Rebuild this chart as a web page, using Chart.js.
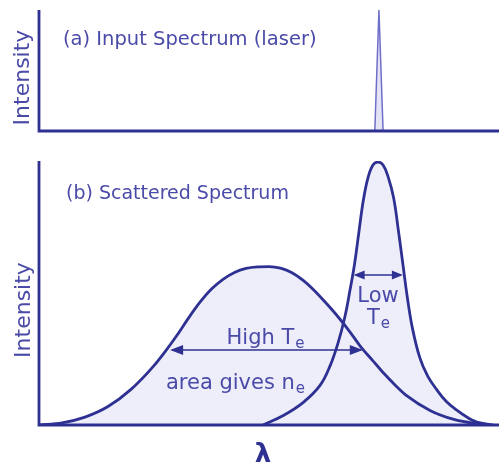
<!DOCTYPE html>
<html lang="en">
<head>
<meta charset="UTF-8">
<title>Thomson scattering spectrum</title>
<script src="https://cdn.jsdelivr.net/npm/chart.js"></script>
<style>
  html, body { margin: 0; padding: 0; background: #fff; }
  #wrap { position: relative; width: 499px; height: 470px; }
  #wrap canvas { position: absolute; left: 0; top: 0; }
</style>
</head>
<body>
<div id="wrap">
  <canvas id="laser" width="499" height="470"></canvas>
  <canvas id="scattered" width="499" height="470"></canvas>
</div>
<script>
// (a) input laser line
const laserX = [73.0, 73.9, 74.8];
const laserY = [0, 100, 0];

// (b) broad scattered spectrum (high Te)
const hotX = [0, 5, 10, 15, 20, 25, 27.5, 30, 32.5, 35, 37.5, 40, 42.5, 45, 47.5, 50,
              52.5, 55, 57.5, 60, 62.5, 65, 67.5, 70, 72.5, 75, 77.5, 80, 85, 90, 95, 98];
const hotY = [0, 0.8, 3, 7, 13.5, 22.5, 28, 34, 40.5, 46.5, 51.5, 55.2, 57.8, 59.3, 59.9, 60,
              59.4, 57.7, 54.7, 50.7, 46, 41, 35.5, 29.5, 24.5, 19.5, 15, 11, 5.5, 2.2, 0.5, 0];

// (b) narrow scattered spectrum (low Te)
const coldX = [48.7, 53, 57.4, 61.1, 63.3, 65, 66.5, 67.6, 68.6, 69.5, 70.5, 71.5, 72.6, 73.7,
               74.8, 75.9, 77.1, 78.1, 79.1, 80.1, 81.2, 82.8, 84.5, 86.5, 88.5, 90.9, 93, 95.2, 98.7];
const coldY = [0, 3.5, 8.5, 15, 22.5, 31, 41, 51, 61, 72.5, 85, 93.5, 98.5, 99.6,
               98.5, 94, 86, 74, 61, 48, 36.5, 25.4, 18.5, 13.3, 9, 5.5, 3, 1.1, 0];

const INK = '#2e3192';
const TEXT = '#4a4aa8';
const FILL = '#eeeefb';
const FONT = '"DejaVu Sans", Verdana, sans-serif';

function pts(xs, ys) {
    return xs.map((x, i) => ({ x: x, y: ys[i] }));
}

// L-shaped axes drawn along the chart area
const axesPlugin = {
    id: 'axesLines',
    afterDatasetsDraw(chart) {
        const { ctx, chartArea: a } = chart;
        ctx.save();
        ctx.strokeStyle = INK;
        ctx.lineWidth = 2.8;
        ctx.beginPath();
        ctx.moveTo(a.left, a.top);
        ctx.lineTo(a.left, a.bottom);
        ctx.lineTo(a.right, a.bottom);
        ctx.stroke();
        ctx.restore();
    }
};

function verticalLabel(ctx, text, x, y) {
    ctx.save();
    ctx.translate(x, y);
    ctx.rotate(-Math.PI / 2);
    ctx.font = '22px ' + FONT;
    ctx.fillStyle = TEXT;
    ctx.textAlign = 'center';
    ctx.textBaseline = 'middle';
    ctx.fillText(text, 0, 0);
    ctx.restore();
}

// text with a small subscript, centred on cx
function subText(ctx, main, sub, cx, baseY, size) {
    ctx.font = size + 'px ' + FONT;
    const w1 = ctx.measureText(main).width;
    ctx.font = Math.round(size * 0.72) + 'px ' + FONT;
    const w2 = ctx.measureText(sub).width;
    const x0 = cx - (w1 + w2) / 2;
    ctx.textAlign = 'left';
    ctx.textBaseline = 'alphabetic';
    ctx.font = size + 'px ' + FONT;
    ctx.fillText(main, x0, baseY);
    ctx.font = Math.round(size * 0.72) + 'px ' + FONT;
    ctx.fillText(sub, x0 + w1 + 1, baseY + 4);
}

function arrowHead(ctx, x, y, dir, len, half) {
    ctx.beginPath();
    ctx.moveTo(x, y);
    ctx.lineTo(x - dir * len, y - half);
    ctx.lineTo(x - dir * len, y + half);
    ctx.closePath();
    ctx.fill();
}

function doubleArrow(ctx, x1, x2, y, len, half) {
    ctx.beginPath();
    ctx.moveTo(x1 + 2, y);
    ctx.lineTo(x2 - 2, y);
    ctx.stroke();
    arrowHead(ctx, x1, y, -1, len, half);
    arrowHead(ctx, x2, y, 1, len, half);
}

const laserLabels = {
    id: 'laserLabels',
    afterDraw(chart) {
        const ctx = chart.ctx;
        const a = chart.chartArea;
        ctx.save();
        verticalLabel(ctx, 'Intensity', 23, (a.top + a.bottom) / 2 + 7);
        ctx.font = '19.5px ' + FONT;
        ctx.fillStyle = TEXT;
        ctx.textAlign = 'left';
        ctx.textBaseline = 'middle';
        ctx.fillText('(a) Input Spectrum (laser)', 63, 40);
        ctx.restore();
    }
};

const scatterLabels = {
    id: 'scatterLabels',
    afterDraw(chart) {
        const ctx = chart.ctx;
        const sx = chart.scales.x, sy = chart.scales.y;
        ctx.save();
        verticalLabel(ctx, 'Intensity', 24, 310);
        ctx.fillStyle = TEXT;
        ctx.font = '19px ' + FONT;
        ctx.textAlign = 'left';
        ctx.textBaseline = 'middle';
        ctx.fillText('(b) Scattered Spectrum', 66, 194);

        // width arrows
        ctx.strokeStyle = INK;
        ctx.fillStyle = INK;
        ctx.lineWidth = 1.5;
        const yHot = sy.getPixelForValue(28.4);
        doubleArrow(ctx, sx.getPixelForValue(28.5), sx.getPixelForValue(70.4), yHot, 13, 5);
        const yCold = sy.getPixelForValue(56.8);
        doubleArrow(ctx, sx.getPixelForValue(68.4), sx.getPixelForValue(79.1), yCold, 11, 4.5);

        ctx.fillStyle = TEXT;
        subText(ctx, 'High T', 'e', 265, 344, 21);
        subText(ctx, 'area gives n', 'e', 235, 389, 21);
        ctx.font = '21px ' + FONT;
        ctx.textAlign = 'center';
        ctx.textBaseline = 'alphabetic';
        ctx.fillText('Low', 378, 302);
        subText(ctx, 'T', 'e', 378, 324, 21);

        ctx.font = 'bold 26px ' + FONT;
        ctx.fillStyle = INK;
        ctx.textAlign = 'center';
        ctx.textBaseline = 'middle';
        ctx.fillText('λ', 263, 455);
        ctx.restore();
    }
};

function baseOptions(padding) {
    return {
        responsive: false,
        animation: false,
        layout: { padding: padding },
        elements: { point: { radius: 0 } },
        plugins: {
            legend: { display: false },
            tooltip: { enabled: false },
            filler: { drawTime: 'beforeDatasetsDraw' }
        },
        scales: {
            x: { type: 'linear', min: 0, max: 100, display: false },
            y: { min: 0, max: 100, display: false }
        }
    };
}

new Chart(document.getElementById('laser'), {
    type: 'line',
    data: {
        datasets: [{
            data: pts(laserX, laserY),
            borderColor: '#6f6fc9',
            borderWidth: 1.5,
            backgroundColor: '#e4e4f6',
            fill: 'origin',
            tension: 0
        }]
    },
    options: baseOptions({ left: 39, right: 0, top: 10, bottom: 339 }),
    plugins: [axesPlugin, laserLabels]
});

new Chart(document.getElementById('scattered'), {
    type: 'line',
    data: {
        datasets: [{
            data: pts(hotX, hotY),
            borderColor: INK,
            borderWidth: 2.8,
            backgroundColor: FILL,
            fill: 'origin',
            cubicInterpolationMode: 'monotone'
        }, {
            data: pts(coldX, coldY),
            borderColor: INK,
            borderWidth: 2.8,
            backgroundColor: FILL,
            fill: 'origin',
            tension: 0.4
        }]
    },
    options: baseOptions({ left: 39, right: 0, top: 161, bottom: 45 }),
    plugins: [axesPlugin, scatterLabels]
});
</script>
</body>
</html>
